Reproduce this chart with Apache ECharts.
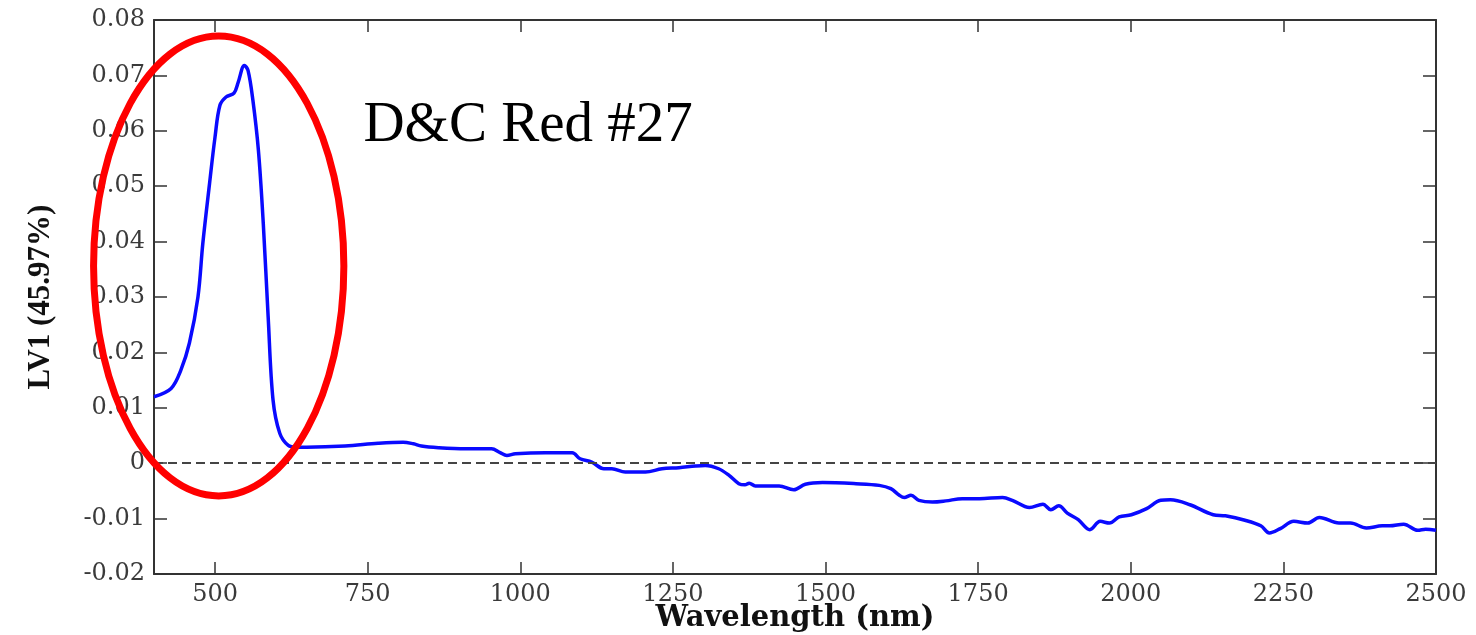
<!DOCTYPE html>
<html>
<head>
<meta charset="utf-8">
<script src="https://cdn.jsdelivr.net/npm/echarts@6/dist/echarts.min.js"></script>
<style>
html,body{margin:0;padding:0;background:#fff;}
#main{width:1476px;height:635px;}
</style>
</head>
<body>
<div id="main"></div>
<script>
// ---- data ----
var wavelength = [400,428,444,458,472,480,491,500,508,518,531,538,548,554,562,571,579,587,595,606,620,633,650,713,767,808,825,838,866,910,953,967,978,992,1041,1085,1098,1117,1137,1150,1172,1205,1232,1260,1287,1303,1325,1342,1358,1368,1375,1385,1424,1448,1467,1495,1550,1588,1607,1621,1629,1640,1653,1675,1697,1724,1752,1790,1806,1834,1856,1869,1882,1896,1914,1933,1950,1965,1981,2001,2026,2049,2065,2097,2135,2155,2187,2213,2227,2245,2267,2290,2309,2341,2360,2386,2412,2424,2447,2470,2483,2500];
var lv1 = [0.0120,0.0135,0.0168,0.0217,0.0300,0.0397,0.0505,0.0589,0.0646,0.0661,0.0668,0.0688,0.0718,0.0709,0.0655,0.0565,0.0433,0.0264,0.0114,0.0054,0.0032,0.0029,0.0029,0.0031,0.0036,0.0038,0.0035,0.0031,0.0028,0.0026,0.0026,0.0019,0.0014,0.0017,0.0019,0.0019,0.0008,0.0002,-0.0010,-0.0010,-0.0016,-0.0016,-0.0010,-0.0008,-0.0005,-0.0004,-0.0010,-0.0022,-0.0037,-0.0039,-0.0036,-0.0041,-0.0041,-0.0048,-0.0038,-0.0035,-0.0037,-0.0040,-0.0046,-0.0058,-0.0062,-0.0058,-0.0067,-0.0070,-0.0068,-0.0064,-0.0064,-0.0062,-0.0067,-0.0080,-0.0074,-0.0084,-0.0077,-0.0090,-0.0102,-0.0120,-0.0105,-0.0108,-0.0097,-0.0093,-0.0082,-0.0067,-0.0066,-0.0075,-0.0093,-0.0095,-0.0103,-0.0113,-0.0126,-0.0118,-0.0105,-0.0108,-0.0098,-0.0108,-0.0108,-0.0117,-0.0113,-0.0113,-0.0110,-0.0121,-0.0119,-0.0121];
var xTicks = [500,750,1000,1250,1500,1750,2000,2250,2500];
var yTicks = [-0.02,-0.01,0,0.01,0.02,0.03,0.04,0.05,0.06,0.07,0.08];
var xTitle = 'Wavelength (nm)';
var yTitle = 'LV1 (45.97%)';
var annotationText = 'D&C Red #27';
var annotationAt = [743, 0.0608];
var ellipseCenter = [506, 0.0356];
var ellipseRadius = [205, 0.0415];

// ---- chart ----
var chart = echarts.init(document.getElementById('main'), null, {renderer: 'canvas'});
var axisColor = '#333';
var labelFont = {fontFamily: 'DejaVu Serif', fontSize: 24, color: '#3a3a3a'};
function fmtY(v){ var r = Math.round(v*100)/100; return r === 0 ? '0' : r.toFixed(2); }
function fmtX(v){ return String(Math.round(v)); }

var option = {
  animation: false,
  backgroundColor: '#fff',
  grid: {left: 154, right: 40, top: 20, bottom: 61, containLabel: false, outerBoundsMode: 'none'},
  xAxis: [{
    type: 'value', min: 400, max: 2500, position: 'bottom',
    name: xTitle, nameLocation: 'middle', nameGap: 30, nameMoveOverlap: false,
    nameTextStyle: {fontFamily: 'DejaVu Serif', fontWeight: 'bold', fontSize: 29, color: '#111', verticalAlign: 'top'},
    axisLine: {show: true, onZero: false, lineStyle: {color: axisColor, width: 2}},
    axisTick: {show: true, inside: true, length: 12, customValues: xTicks, lineStyle: {color: axisColor, width: 1.5}},
    axisLabel: {customValues: xTicks, margin: 9, formatter: fmtX, fontFamily: labelFont.fontFamily, fontSize: labelFont.fontSize, color: labelFont.color},
    splitLine: {show: false}
  }, {
    type: 'value', min: 400, max: 2500, position: 'top',
    axisLine: {show: true, onZero: false, lineStyle: {color: axisColor, width: 2}},
    axisTick: {show: true, inside: true, length: 12, customValues: xTicks, lineStyle: {color: axisColor, width: 1.5}},
    axisLabel: {show: false},
    splitLine: {show: false}
  }],
  yAxis: [{
    type: 'value', min: -0.02, max: 0.08, position: 'left',
    name: yTitle, nameLocation: 'middle', nameGap: 98, nameRotate: 90,
    nameTextStyle: {fontFamily: 'Liberation Serif', fontWeight: 'bold', fontSize: 31, color: '#111'},
    axisLine: {show: true, onZero: false, lineStyle: {color: axisColor, width: 2}},
    axisTick: {show: true, inside: true, length: 13, customValues: yTicks, lineStyle: {color: axisColor, width: 1.5}},
    axisLabel: {customValues: yTicks, margin: 9, formatter: fmtY, fontFamily: labelFont.fontFamily, fontSize: labelFont.fontSize, color: labelFont.color},
    splitLine: {show: false}
  }, {
    type: 'value', min: -0.02, max: 0.08, position: 'right',
    axisLine: {show: true, onZero: false, lineStyle: {color: axisColor, width: 2}},
    axisTick: {show: true, inside: true, length: 13, customValues: yTicks, lineStyle: {color: axisColor, width: 1.5}},
    axisLabel: {show: false},
    splitLine: {show: false}
  }],
  series: [{
    type: 'line',
    xAxisIndex: 0, yAxisIndex: 0,
    data: wavelength.map(function(w, i){ return [w, lv1[i]]; }),
    showSymbol: false,
    smooth: 0.35,
    lineStyle: {color: '#0a0aff', width: 3.5},
    markLine: {
      silent: true, symbol: 'none', label: {show: false},
      lineStyle: {color: '#444', width: 1.8, type: [9, 5]},
      data: [{yAxis: 0}]
    },
    z: 3
  }]
};
chart.setOption(option);

function placeAnnotations(){
  var c = chart.convertToPixel({gridIndex: 0}, ellipseCenter);
  var e = chart.convertToPixel({gridIndex: 0}, [ellipseCenter[0] + ellipseRadius[0], ellipseCenter[1] + ellipseRadius[1]]);
  var t = chart.convertToPixel({gridIndex: 0}, annotationAt);
  chart.setOption({
    graphic: [{
      type: 'ellipse', z: 10,
      shape: {cx: c[0], cy: c[1], rx: Math.abs(e[0] - c[0]), ry: Math.abs(e[1] - c[1])},
      style: {fill: 'none', stroke: '#ff0000', lineWidth: 7}
    }, {
      type: 'text', z: 10, x: t[0], y: t[1],
      style: {text: annotationText, fill: '#000', font: '57px "Liberation Serif"', textAlign: 'left', textVerticalAlign: 'middle'}
    }]
  });
}
placeAnnotations();
</script>
</body>
</html>
